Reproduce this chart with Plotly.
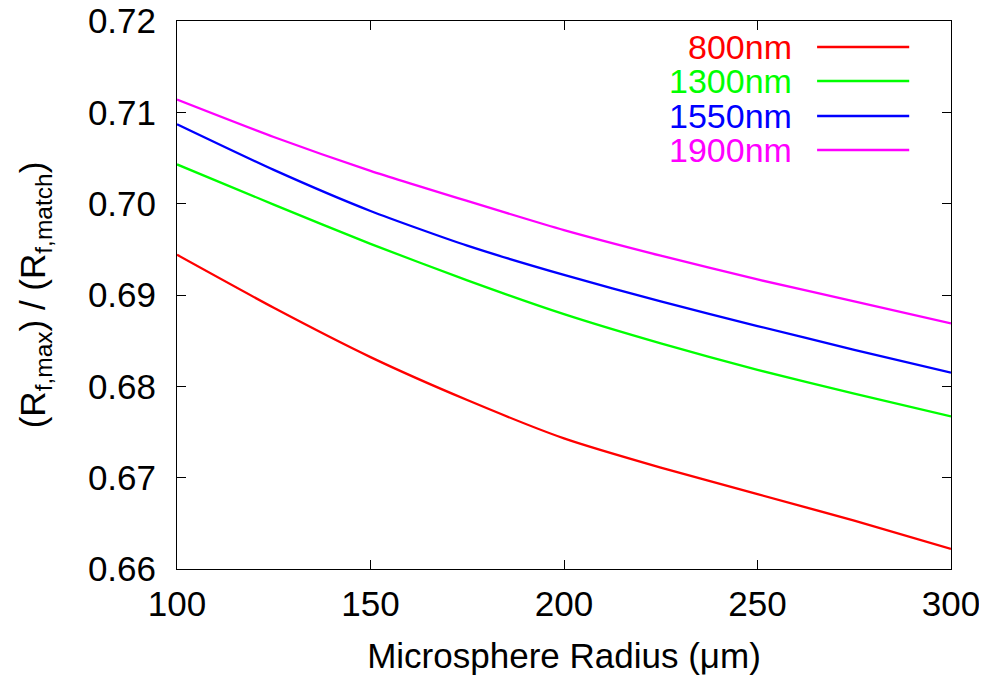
import plotly.graph_objects as go

radius = [100, 125, 150, 175, 200, 225, 250, 275, 300]
r_800 = [0.6944, 0.6886, 0.6832, 0.6785, 0.6743, 0.6711, 0.6682, 0.6653, 0.6622]
r_1300 = [0.7043, 0.6999, 0.6956, 0.6916, 0.6879, 0.6847, 0.6818, 0.6792, 0.6767]
r_1550 = [0.7087, 0.7037, 0.6992, 0.6954, 0.6922, 0.6893, 0.6866, 0.6840, 0.6815]
r_1900 = [0.7114, 0.7073, 0.7036, 0.7003, 0.6971, 0.6943, 0.6917, 0.6893, 0.6869]

labels = ["800nm", "1300nm", "1550nm", "1900nm"]
colors = ["#ff0000", "#00ff00", "#0000ff", "#ff00ff"]
series = [r_800, r_1300, r_1550, r_1900]

FONT = "Liberation Sans, Arial, Helvetica, sans-serif"
FS = 35
fig = go.Figure()
for lab, col, ys in zip(labels, colors, series):
    fig.add_trace(go.Scatter(x=radius, y=ys, mode="lines", name=lab,
                             line=dict(color=col, width=2.3, shape="spline", smoothing=0.6),
                             showlegend=False))

# manual legend (text left of line sample, gnuplot style)
leg_y = [0.9526, 0.8905, 0.8266, 0.7646]
for lab, col, yy in zip(labels, colors, leg_y):
    fig.add_annotation(xref="paper", yref="paper", x=0.797, y=yy, text=lab,
                       showarrow=False, xanchor="right", yanchor="middle",
                       font=dict(family=FONT, size=34, color=col))
    fig.add_shape(type="line", xref="paper", yref="paper",
                  x0=0.827, x1=0.946, y0=yy, y1=yy,
                  line=dict(color=col, width=2.3))

axis_common = dict(showline=True, linecolor="black", linewidth=1, mirror="ticks",
                   ticks="inside", ticklen=9, tickcolor="black", tickwidth=1,
                   showgrid=False, zeroline=False, automargin=False,
                   ticklabeloverflow="allow",
                   tickfont=dict(family=FONT, size=FS, color="black"))

fig.update_xaxes(range=[100, 300], tickvals=[100, 150, 200, 250, 300],
                 ticktext=["100", "150", "200", "250", "300"],
                 title=dict(text="Microsphere Radius (\u03bcm)", standoff=21,
                            font=dict(family=FONT, size=FS, color="black")),
                 ticklabelstandoff=4,
                 **axis_common)
fig.update_yaxes(range=[0.66, 0.72], tickvals=[0.66, 0.67, 0.68, 0.69, 0.70, 0.71, 0.72],
                 ticktext=["0.66", "0.67", "0.68", "0.69", "0.70", "0.71", "0.72"],
                 title=dict(text="(R<sub>f,max</sub>) / (R<sub>f,match</sub>)", standoff=31,
                            font=dict(family=FONT, size=FS, color="black")),
                 ticklabelstandoff=13,
                 **axis_common)

fig.update_layout(width=987, height=679, plot_bgcolor="white", paper_bgcolor="white",
                  margin=dict(l=169, r=44, t=13, b=118))
fig.write_html("out.html")
